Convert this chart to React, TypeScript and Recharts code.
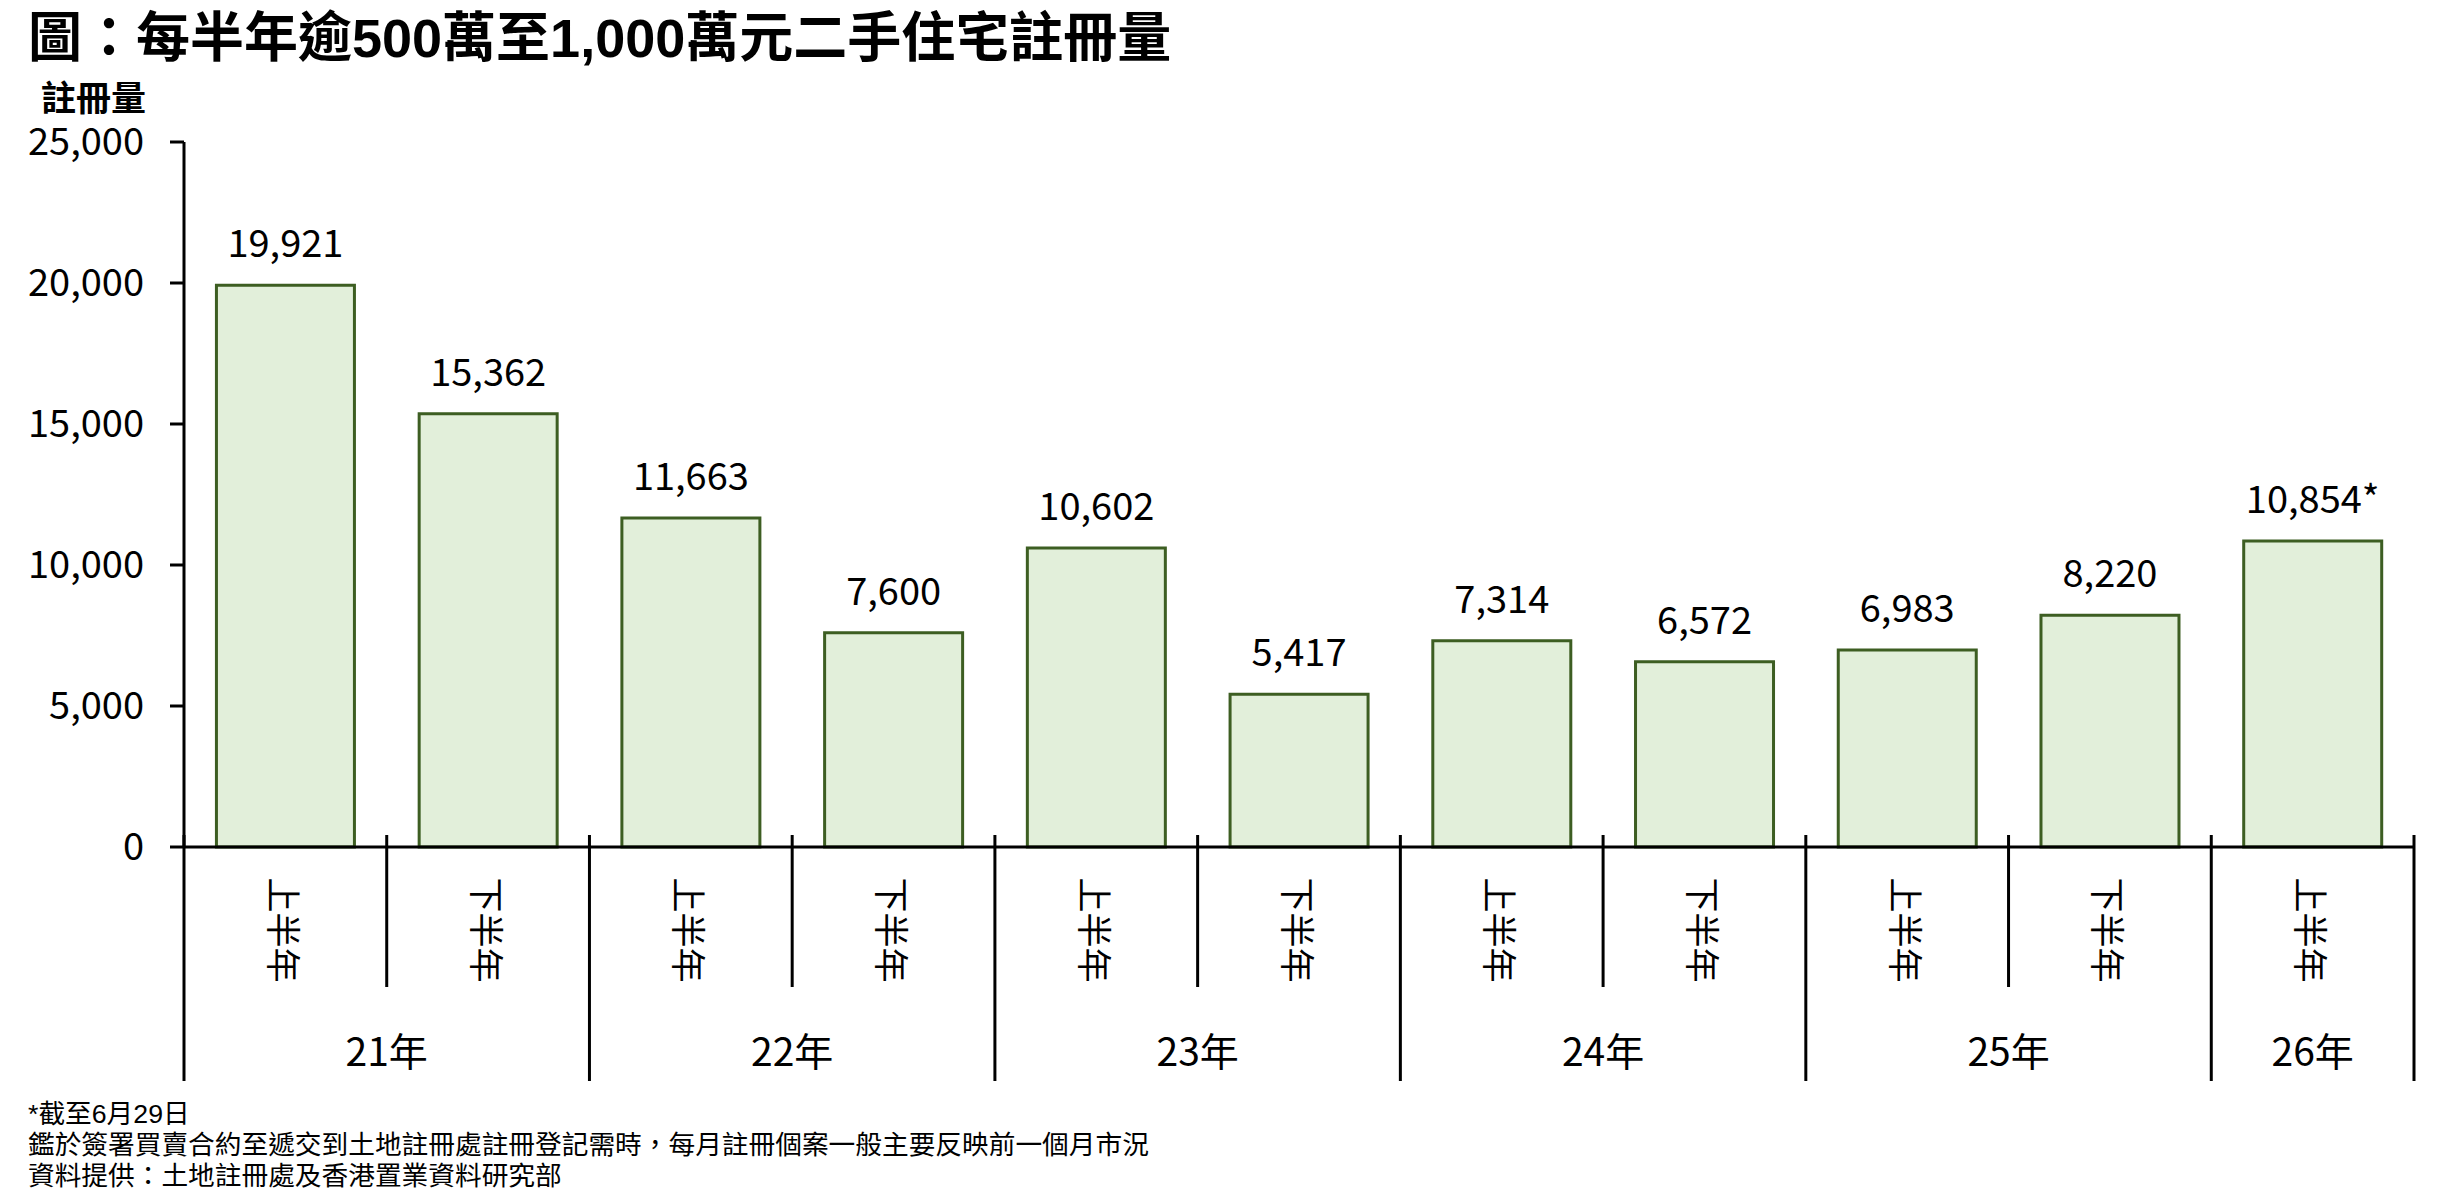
import React from 'react';
import { BarChart, Bar, XAxis, YAxis, LabelList } from 'recharts';

const years = ['21年', '21年', '22年', '22年', '23年', '23年', '24年', '24年', '25年', '25年', '26年'];
const halves = ['上半年', '下半年', '上半年', '下半年', '上半年', '下半年', '上半年', '下半年', '上半年', '下半年', '上半年'];
const registrations = [19921, 15362, 11663, 7600, 10602, 5417, 7314, 6572, 6983, 8220, 10854];
const labelSuffix = ['', '', '', '', '', '', '', '', '', '', '*'];
const yTicks = [0, 5000, 10000, 15000, 20000, 25000];
const notes = [
  '*截至6月29日',
  '鑑於簽署買賣合約至遞交到土地註冊處註冊登記需時，每月註冊個案一般主要反映前一個月市況',
  '資料提供：土地註冊處及香港置業資料研究部',
];

const FONT = "'Noto Sans CJK TC', 'Noto Sans', sans-serif";
// Latin first so the html text boxes stay tight, CJK falls back
const HTML_FONT = "'Liberation Sans', 'Noto Sans CJK TC', sans-serif";
const fmt = (v: number) => v.toLocaleString('en-US');

const ids = years.map((y, i) => y + halves[i]);
const data = ids.map((id, i) => ({
  id,
  value: registrations[i],
  label: fmt(registrations[i]) + labelSuffix[i],
}));

function CategoryTick(props: any) {
  const { x, y, payload } = props;
  const i = ids.indexOf(payload.value);
  const half = payload.offset || 0;
  const yearStart = i === 0 || years[i] !== years[i - 1];
  const groupSize = years.filter((yr) => yr === years[i]).length;
  const isLast = i === ids.length - 1;
  const cy = y + 83;
  return (
    <g>
      <line x1={x - half} x2={x - half} y1={y - 12} y2={yearStart ? y + 234 : y + 140} stroke="#000" strokeWidth={3} />
      {isLast && <line x1={x + half} x2={x + half} y1={y - 12} y2={y + 234} stroke="#000" strokeWidth={3} />}
      <text
        x={x}
        y={cy}
        transform={`rotate(90, ${x}, ${cy})`}
        textAnchor="middle"
        dominantBaseline="central"
        fontSize={35}
        fontFamily={FONT}
        fill="#000"
      >
        {halves[i]}
      </text>
      {yearStart && (
        <text
          x={x - half + groupSize * half}
          y={y + 202}
          textAnchor="middle"
          dominantBaseline="central"
          fontSize={39}
          fontFamily={FONT}
          fill="#000"
        >
          {years[i]}
        </text>
      )}
    </g>
  );
}

export default function App() {
  return (
    <div style={{ position: 'absolute', left: 0, top: 0, width: 2447, height: 1204, background: '#fff', fontFamily: HTML_FONT }}>
      <div style={{ position: 'absolute', left: 28, top: 11, fontSize: 54, fontWeight: 700, lineHeight: 1, color: '#000', whiteSpace: 'nowrap' }}>
        圖：每半年逾500萬至1,000萬元二手住宅註冊量
      </div>
      <div style={{ position: 'absolute', left: 41, top: 81, fontSize: 35, fontWeight: 700, lineHeight: 1, color: '#000' }}>
        註冊量
      </div>
      <BarChart width={2447} height={1204} data={data} margin={{ top: 142, right: 33, bottom: 0, left: 0 }} barCategoryGap="16%">
        <XAxis
          dataKey="id"
          height={357}
          interval={0}
          tickSize={0}
          tickMargin={0}
          tickLine={false}
          axisLine={{ stroke: '#000', strokeWidth: 3 }}
          tick={<CategoryTick />}
        />
        <YAxis
          width={184}
          domain={[0, 25000]}
          ticks={yTicks}
          interval={0}
          tickSize={14}
          tickMargin={26}
          tickFormatter={fmt}
          axisLine={{ stroke: '#000', strokeWidth: 3 }}
          tickLine={{ stroke: '#000', strokeWidth: 3 }}
          tick={{ fontSize: 38, fill: '#000', fontFamily: FONT }}
        />
        <Bar dataKey="value" fill="#e2efda" stroke="#3d5e22" strokeWidth={3} isAnimationActive={false}>
          <LabelList dataKey="label" position="top" offset={28} fontSize={38} fill="#000" fontFamily={FONT} isAnimationActive={false} />
        </Bar>
      </BarChart>
      <div style={{ position: 'absolute', left: 28, top: 1099, fontSize: 26.7, lineHeight: '31px', color: '#000', whiteSpace: 'nowrap' }}>
        {notes.map((n) => (
          <div key={n}>{n}</div>
        ))}
      </div>
    </div>
  );
}
